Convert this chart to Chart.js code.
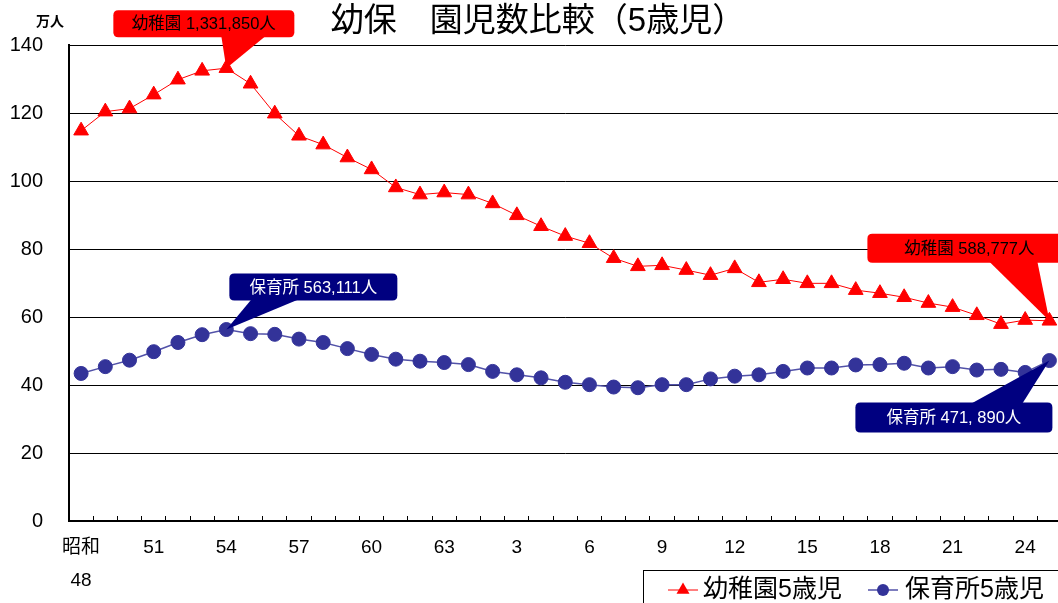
<!DOCTYPE html>
<html>
<head>
<meta charset="utf-8">
<script src="https://cdn.jsdelivr.net/npm/chart.js@4"></script>
<style>
  html, body { margin: 0; padding: 0; overflow: hidden; background: #fff; }
  canvas { display: block; }
</style>
</head>
<body>
<canvas id="chart" width="1071" height="603"></canvas>
<script>
// 年度（昭和48年〜平成25年）
const categories = ['昭和48','49','50','51','52','53','54','55','56','57','58','59','60','61','62','63',
  '平成元','2','3','4','5','6','7','8','9','10','11','12','13','14','15','16','17','18','19','20','21','22','23','24','25'];

// 幼稚園5歳児（万人）
const kindergarten = [114.8,120.4,121.3,125.4,129.8,132.4,133.185,128.6,119.8,113.3,110.7,106.9,103.4,98.1,96.0,96.6,
  96.0,93.4,89.9,86.7,83.8,81.7,77.3,74.9,75.2,73.8,72.3,74.3,70.2,71.1,69.9,69.9,67.9,67.0,65.8,64.1,62.9,60.5,57.9,59.1,58.8777];

// 保育所5歳児（万人）
const nursery = [43.4,45.4,47.3,49.8,52.5,54.8,56.3111,55.1,54.9,53.5,52.5,50.7,49.0,47.6,47.0,46.6,
  46.0,44.0,43.0,42.1,40.8,40.1,39.4,39.2,40.1,40.1,41.8,42.6,43.0,44.0,45.0,45.0,45.9,46.0,46.4,45.0,45.4,44.4,44.6,43.7,47.189];

const seriesNames = ['幼稚園5歳児', '保育所5歳児'];
const yRange = { min: 0, max: 140, step: 20 };

const FONT = '"Liberation Sans", "Noto Sans CJK JP", sans-serif';
const RED = '#ff0000';
const NAVY = '#000080';
const BLUE = '#333399';

// 吹き出し：対象点からの相対位置 [左, 上, 右, 下]、矢印の根元 [x1, x2]
const callouts = [
  { ds: 0, idx: 6,  text: '幼稚園 1,331,850人', fill: RED,  color: '#000', box: [-113, -58, 68, -31], base: [-5, 39] },
  { ds: 0, idx: 40, text: '幼稚園 588,777人',   fill: RED,  color: '#000', box: [-182, -87, 22, -58], base: [-60, -12] },
  { ds: 1, idx: 6,  text: '保育所 563,111人',   fill: NAVY, color: '#fff', box: [3, -56, 171, -29],   base: [25, 72] },
  { ds: 1, idx: 40, text: '保育所 471, 890人',  fill: NAVY, color: '#fff', box: [-194, 42, 3, 72],    base: [-78, -27] }
];

function roundRectPath(ctx, x, y, w, h, r) {
  ctx.moveTo(x + r, y);
  ctx.lineTo(x + w - r, y);
  ctx.quadraticCurveTo(x + w, y, x + w, y + r);
  ctx.lineTo(x + w, y + h - r);
  ctx.quadraticCurveTo(x + w, y + h, x + w - r, y + h);
  ctx.lineTo(x + r, y + h);
  ctx.quadraticCurveTo(x, y + h, x, y + h - r);
  ctx.lineTo(x, y + r);
  ctx.quadraticCurveTo(x, y, x + r, y);
  ctx.closePath();
}

const calloutPlugin = {
  id: 'callouts',
  afterDatasetsDraw(chart) {
    const ctx = chart.ctx;
    ctx.save();
    callouts.forEach(c => {
      const pt = chart.getDatasetMeta(c.ds).data[c.idx];
      const px = pt.x, py = pt.y;
      const l = px + c.box[0], t = py + c.box[1], r = px + c.box[2], b = py + c.box[3];
      const above = b < py;
      const edge = above ? b - 1 : t + 1;
      ctx.fillStyle = c.fill;
      ctx.beginPath();
      roundRectPath(ctx, l, t, r - l, b - t, 5);
      ctx.fill();
      ctx.beginPath();
      ctx.moveTo(px + c.base[0], edge);
      ctx.lineTo(px + c.base[1], edge);
      ctx.lineTo(px, py);
      ctx.closePath();
      ctx.fill();
      ctx.fillStyle = c.color;
      ctx.font = '16.5px ' + FONT;
      ctx.textAlign = 'center';
      ctx.textBaseline = 'middle';
      ctx.fillText(c.text, (l + r) / 2, (t + b) / 2 + 1);
    });
    ctx.restore();
  }
};

const decorPlugin = {
  id: 'decor',
  afterDraw(chart) {
    const ctx = chart.ctx;
    ctx.save();
    // タイトル
    ctx.fillStyle = '#000';
    ctx.font = '33px ' + FONT;
    ctx.textAlign = 'center';
    ctx.textBaseline = 'middle';
    ctx.fillText('幼保　園児数比較（5歳児）', 538, 22);
    // 単位
    ctx.font = 'bold 14px ' + FONT;
    ctx.fillText('万人', 50, 22);

    // 凡例
    const ds = chart.data.datasets;
    ctx.strokeStyle = '#000';
    ctx.lineWidth = 1;
    ctx.strokeRect(643.5, 570.5, 500, 60);
    const items = [
      { x: 668, textX: 703, d: ds[0] },
      { x: 868, textX: 905, d: ds[1] }
    ];
    const ly = 590;
    items.forEach(it => {
      ctx.strokeStyle = it.d.borderColor;
      ctx.lineWidth = it.d.borderWidth;
      ctx.beginPath();
      ctx.moveTo(it.x, ly);
      ctx.lineTo(it.x + 30, ly);
      ctx.stroke();
      ctx.fillStyle = it.d.pointBackgroundColor;
      ctx.beginPath();
      if (it.d.pointStyle === 'triangle') {
        const rr = 7.5, cx = it.x + 15;
        ctx.moveTo(cx, ly - rr);
        ctx.lineTo(cx + rr * 0.866, ly + rr / 2);
        ctx.lineTo(cx - rr * 0.866, ly + rr / 2);
        ctx.closePath();
      } else {
        ctx.arc(it.x + 15, ly, 6, 0, Math.PI * 2);
      }
      ctx.fill();
      ctx.fillStyle = '#000';
      ctx.font = '25px ' + FONT;
      ctx.textAlign = 'left';
      ctx.textBaseline = 'middle';
      ctx.fillText(it.d.label, it.textX, ly);
    });
    ctx.restore();
  }
};

new Chart(document.getElementById('chart'), {
  type: 'line',
  data: {
    labels: categories,
    datasets: [
      {
        label: seriesNames[0],
        data: kindergarten,
        borderColor: RED,
        backgroundColor: RED,
        borderWidth: 1,
        pointStyle: 'triangle',
        pointRadius: 8.5,
        pointBorderWidth: 1,
        pointBackgroundColor: RED,
        pointBorderColor: RED,
        tension: 0
      },
      {
        label: seriesNames[1],
        data: nursery,
        borderColor: '#5252a8',
        backgroundColor: BLUE,
        borderWidth: 1.5,
        pointStyle: 'circle',
        pointRadius: 7,
        pointBorderWidth: 1,
        pointBackgroundColor: BLUE,
        pointBorderColor: BLUE,
        tension: 0
      }
    ]
  },
  options: {
    responsive: false,
    animation: false,
    devicePixelRatio: 1,
    layout: { padding: { top: 45, left: 0, right: 0, bottom: 0 } },
    plugins: {
      legend: { display: false },
      tooltip: { enabled: false },
      title: { display: false }
    },
    scales: {
      x: {
        type: 'category',
        offset: true,
        grid: {
          display: true,
          offset: true,
          drawOnChartArea: false,
          drawTicks: true,
          tickLength: -5,
          color: '#000',
          lineWidth: 1
        },
        border: { display: true, color: '#000', width: 2 },
        ticks: {
          autoSkip: false,
          maxRotation: 0,
          minRotation: 0,
          padding: 16,
          color: '#000',
          font: { family: FONT, size: 19, lineHeight: 1.7 },
          callback(value, index) {
            if (index % 3 !== 0) return '';
            const label = categories[index];
            return label.startsWith('昭和') ? ['昭和', label.slice(2)] : label;
          }
        },
        afterFit(s) { s.height = 82; s.paddingLeft = 0; s.paddingRight = 0; }
      },
      y: {
        min: yRange.min,
        max: yRange.max,
        ticks: {
          stepSize: yRange.step,
          padding: 26,
          color: '#000',
          font: { family: FONT, size: 20 }
        },
        grid: { color: '#000', lineWidth: 1, drawTicks: false },
        border: { display: true, color: '#000', width: 2 },
        afterFit(s) { s.width = 69; }
      }
    }
  },
  plugins: [calloutPlugin, decorPlugin]
});
</script>
</body>
</html>
